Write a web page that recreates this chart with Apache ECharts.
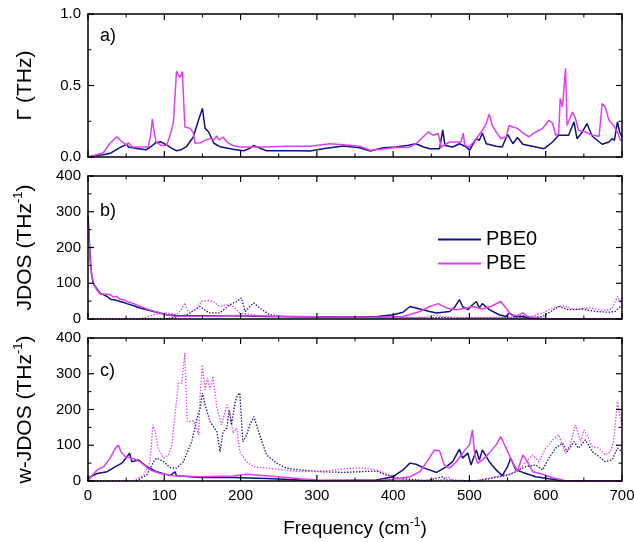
<!DOCTYPE html>
<html><head><meta charset="utf-8">
<script src="https://cdn.jsdelivr.net/npm/echarts/dist/echarts.min.js"></script>
<style>html,body{margin:0;padding:0;background:#fff}#wrap{position:relative;width:634px;height:542px}
#c,#tk,#lb{position:absolute;left:0;top:0;width:634px;height:542px}#tk,#lb{pointer-events:none}</style>
</head><body><div id="wrap"><div id="c"></div><div id="lb"></div><div id="tk"></div></div>
<script>
// x: frequency (cm^-1)
const xTicks = [0,100,200,300,400,500,600,700];
const gammaTicks = [0.0,0.5,1.0];
const jdosTicks = [0,100,200,300,400];
const xTickMarks = [0,50,100,150,200,250,300,350,400,450,500,550,600,650,700];
const gammaTickMarks = [0,0.25,0.5,0.75,1.0];
const jdosTickMarks = [0,50,100,150,200,250,300,350,400];
const seriesNames = ['PBE0','PBE'];
const panelLabels = ['a)','b)','c)'];

// panel a: Gamma (THz)
const gammaPBE = [[0,0],[10,0.014],[20,0.03],[29,0.096],[37.6,0.142],[44,0.11],[50.7,0.084],[53,0.1],[58,0.07],[70,0.07],[79,0.07],[82,0.15],[84.3,0.266],[86,0.2],[89,0.107],[96,0.08],[103,0.08],[107.5,0.15],[112,0.24],[116,0.60],[118,0.58],[120.5,0.557],[123.6,0.597],[127,0.21],[134,0.2],[138,0.17],[140.2,0.096],[147,0.1],[155,0.12],[160,0.13],[165,0.12],[168.6,0.147],[172,0.12],[177,0.14],[183,0.1],[190,0.08],[200,0.07],[230,0.07],[260,0.075],[291,0.075],[317,0.093],[335,0.085],[356,0.075],[370,0.047],[385,0.055],[400,0.065],[422,0.07],[430,0.093],[446,0.175],[452,0.152],[459,0.164],[463,0.07],[474,0.105],[489,0.105],[492,0.168],[494,0.08],[500,0.07],[509,0.128],[517,0.187],[522,0.234],[526,0.30],[530,0.22],[535,0.175],[541,0.128],[548,0.14],[552,0.22],[557,0.21],[563,0.2],[570,0.168],[578,0.14],[587,0.175],[596,0.2],[604,0.257],[609,0.234],[613,0.152],[617,0.164],[619,0.41],[622,0.35],[626,0.62],[628,0.22],[635,0.315],[639,0.27],[643,0.187],[652,0.175],[661,0.152],[670,0.145],[674,0.374],[678,0.35],[683,0.257],[689,0.22],[694,0.175],[698,0.117],[700,0.115]];
const gammaPBE0 = [[0,0],[10,0.01],[20,0.015],[29,0.026],[40,0.06],[50.7,0.09],[53,0.07],[64,0.06],[76,0.05],[82,0.07],[89,0.1],[95,0.107],[103,0.084],[110,0.06],[116,0.044],[122,0.05],[129,0.072],[138,0.14],[145,0.26],[150,0.34],[153.5,0.2],[158,0.177],[165,0.096],[173,0.072],[190,0.054],[204,0.044],[212,0.06],[217,0.08],[226,0.06],[234,0.044],[278,0.044],[291,0.042],[310,0.06],[335,0.077],[356,0.065],[370,0.042],[387,0.065],[404,0.07],[420,0.082],[430,0.093],[440,0.07],[448,0.058],[461,0.058],[465,0.19],[468,0.08],[478,0.07],[487,0.093],[496,0.07],[500,0.047],[509,0.128],[513,0.117],[517,0.168],[522,0.093],[535,0.075],[543,0.07],[550,0.159],[557,0.093],[563,0.136],[570,0.089],[587,0.07],[598,0.058],[609,0.105],[617,0.152],[630,0.152],[637,0.245],[641,0.128],[648,0.175],[654,0.234],[661,0.145],[674,0.089],[683,0.105],[687,0.128],[690,0.117],[694,0.245],[697,0.175],[700,0.14]];

// panel b: JDOS (THz^-1)
const jdosPBE0 = [[0,290],[1.5,230],[3,165],[5,119],[7,100],[9.6,91],[13,80],[16,72],[20,68],[25,63],[30,55],[33.6,54],[38,52],[42,49],[46,47],[51,43],[60,37],[68,31],[77,26],[86,21],[95,16],[103,12],[115,10],[130,9],[160,9],[190,9],[234,7],[300,6],[350,6],[380,7],[400,12],[413,19],[422,35],[435,28],[448,21],[457,17],[474,21],[480,31],[487,54],[491,35],[498,26],[504,40],[509,49],[513,31],[517,43],[526,26],[539,12],[548,7],[552,17],[559,7],[570,7],[578,3],[596,1],[620,0],[700,0]];
const jdosPBE = [[0,270],[1.5,220],[3,160],[5,120],[8,95],[12,80],[16,70],[22,70],[29,68],[33,62],[38,63],[42,55],[46.7,54],[52,48],[60,43],[68,36],[77,28],[86,22],[95,17],[103,12],[112,8],[150,8],[200,10],[250,8],[300,6],[380,5],[413,7],[435,21],[448,35],[459,43],[470,31],[483,26],[496,31],[504,35],[517,28],[528,35],[541,49],[548,31],[554,12],[563,9],[570,17],[576,7],[591,3],[604,0],[700,0]];
const jdosPBE0dot = [[0,0],[100,0],[110,3],[130,12],[147,35],[155,22],[160,17],[173,17],[186,40],[195,49],[201,59],[206,21],[217,45],[225,31],[238,12],[256,7],[304,5],[350,4],[400,3],[450,3],[470,5],[480,2],[500,3],[550,3],[580,4],[596,7],[604,17],[617,35],[630,26],[648,28],[665,21],[683,19],[691,21],[698,35],[700,33]];
const jdosPBEdot = [[0,0],[60,0],[73,3],[86,12],[103,17],[116,12],[122,25],[127,45],[130,25],[134,17],[143,31],[149,49],[156,52],[164,49],[173,35],[182,40],[190,35],[199,17],[217,12],[234,7],[278,6],[330,5],[400,4],[440,5],[455,10],[465,6],[500,4],[560,5],[570,10],[580,6],[596,17],[609,31],[622,37],[639,26],[657,31],[674,24],[687,28],[694,63],[698,49],[700,45]];

// panel c: w-JDOS (THz^-1)
const wjdosPBE0 = [[0,0],[3,12],[12,21],[25,26],[36,40],[44.5,50],[51,68],[54.5,78],[57.5,54],[66,59],[77,40],[90,26],[108,15],[114,26],[116,15],[147,10],[190,10],[234,7],[278,3],[300,1],[378,3],[400,12],[413,31],[422,50],[430,47],[441,36],[457,24],[470,40],[478,54],[487,89],[491,64],[498,78],[502,45],[509,87],[513,59],[517,87],[526,54],[535,31],[543,15],[550,40],[554,64],[561,31],[570,24],[587,12],[604,6],[622,1],[630,0],[700,0]];
const wjdosPBE = [[0,0],[5,15],[12,31],[20.5,40],[29,64],[36,92],[40,101],[43,82],[49,68],[60,62],[68,54],[81.5,31],[95,21],[112,15],[147,12],[190,14],[208,19],[234,15],[278,6],[300,3],[378,1],[400,5],[422,12],[435,26],[446,59],[454,87],[461,84],[467,45],[474,36],[483,54],[491,78],[500,101],[504,143],[507,73],[511,50],[517,59],[526,78],[535,101],[541,124],[548,92],[557,50],[563,28],[570,73],[576,54],[583,26],[596,19],[609,9],[622,3],[626,0],[700,0]];
const wjdosPBE0dot = [[0,0],[64,1],[77,17],[86,54],[90,64],[99,54],[108,37],[116,36],[125,54],[136,110],[143,176],[147,204],[150,246],[153.5,213],[160,166],[169,138],[173,82],[177,138],[182,148],[185,199],[188,157],[193,222],[196,241],[199,246],[203,110],[208,129],[212,157],[217.5,180],[225,129],[234,73],[247,50],[260,36],[278,31],[304,26],[335,24],[378,28],[391,17],[409,7],[443,1],[465,12],[470,3],[509,0],[552,17],[574,40],[587,45],[596,31],[604,64],[613,92],[622,106],[628,82],[637,110],[643,92],[652,115],[661,82],[670,68],[678,54],[687,59],[694,92],[700,82]];
const wjdosPBEdot = [[0,0],[60,1],[73,17],[81.5,54],[85,157],[88,138],[92,92],[99,64],[105.5,73],[110,101],[114,185],[118.6,274],[123,274],[127,358],[130,166],[138,168],[143,143],[145,129],[147,241],[150,325],[153.5,255],[156.5,288],[160,255],[164,293],[169,204],[175,157],[182,213],[186,194],[190,134],[195,148],[199,82],[208,54],[217,40],[234,36],[278,26],[304,28],[313,28],[335,34],[356,37],[378,31],[391,21],[404,7],[422,1],[465,3],[472,12],[478,1],[509,1],[535,12],[552,19],[565,31],[574,54],[583,73],[591,54],[600,92],[609,115],[617,129],[626,78],[632,101],[639,157],[646,110],[650,143],[654,129],[661,96],[670,92],[678,73],[685,82],[689,110],[694,222],[697,185],[700,157]];

const C0 = '#101080', C1 = '#dd40f2';
const FONT = 'Liberation Sans, Arial, sans-serif';

const tops = [14, 176, 338], H = 143;
const yCfg = [
  {min:gammaTicks[0], max:gammaTicks[gammaTicks.length-1], interval:gammaTicks[1]-gammaTicks[0], dec:1, major:gammaTicks, marks:gammaTickMarks, name:'{n|Γ (THz)}'},
  {min:jdosTicks[0], max:jdosTicks[jdosTicks.length-1], interval:jdosTicks[1]-jdosTicks[0], dec:0, major:jdosTicks, marks:jdosTickMarks, name:'{n|JDOS (THz}{s|-1}{n|)}'},
  {min:jdosTicks[0], max:jdosTicks[jdosTicks.length-1], interval:jdosTicks[1]-jdosTicks[0], dec:0, major:jdosTicks, marks:jdosTickMarks, name:'{n|w-JDOS (THz}{s|-1}{n|)}'}
];
const xmin = xTicks[0], xmax = xTicks[xTicks.length-1], xint = xTicks[1]-xTicks[0];
const safeFmt = dec => (v => { const n = Number(v); return isFinite(n) ? n.toFixed(dec) : String(v); });

// ---------- 1. data chart (series, legend, panel labels) ----------
function runData(){
  const chart = echarts.init(document.getElementById('c'));
  const dx = [], dy = [];
  for (let i=0;i<3;i++){
    dx.push({type:'value', gridIndex:i, min:xmin, max:xmax, interval:xint, axisLine:{show:false}, axisTick:{show:false}, axisLabel:{show:false}, splitLine:{show:false}});
    const c = yCfg[i];
    dy.push({type:'value', gridIndex:i, min:c.min, max:c.max, interval:c.interval, axisLine:{show:false}, axisTick:{show:false}, axisLabel:{show:false}, splitLine:{show:false}});
  }
  function ser(name, data, g, color, dotted){
    return {type:'line', name, data, xAxisIndex:g, yAxisIndex:g, showSymbol:false, symbol:'none',
      lineStyle:{color, width: dotted?1.3:1.5, type: dotted?[1.4,1.6]:'solid'}, itemStyle:{color}};
  }
  const series = [
    ser(seriesNames[0]+' ', jdosPBE0dot, 1, C0, true),
    ser(seriesNames[1]+' ', jdosPBEdot, 1, C1, true),
    ser(seriesNames[0]+' ', wjdosPBE0dot, 2, C0, true),
    ser(seriesNames[1]+' ', wjdosPBEdot, 2, C1, true),
    ser(seriesNames[0], gammaPBE0, 0, C0, false),
    ser(seriesNames[1], gammaPBE, 0, C1, false),
    ser(seriesNames[0], jdosPBE0, 1, C0, false),
    ser(seriesNames[1], jdosPBE, 1, C1, false),
    ser(seriesNames[0], wjdosPBE0, 2, C0, false),
    ser(seriesNames[1], wjdosPBE, 2, C1, false)
  ];
  const labelYs = [37, 212, 372];
  chart.setOption({
    animation:false,
    grid:tops.map(t => ({left:88, right:12, top:t, height:H, outerBoundsMode:'none'})), xAxis:dx, yAxis:dy, series,
    legend:{data:seriesNames.map(n=>({name:n, icon:'rect'})), orient:'vertical', left:433, top:223, itemWidth:43, itemHeight:2, itemGap:1,
      selectedMode:false, textStyle:{fontSize:20, fontFamily:FONT, color:'#000', lineHeight:23}},
    graphic: panelLabels.map((t,i)=>({type:'text', left:100, top:labelYs[i]-10, style:{text:t, fontSize:18, fontFamily:FONT, fill:'#000'}}))
  });
}

// ---------- 2. label chart (tick labels and titles only) ----------
function runLabels(){
  const ch = echarts.init(document.getElementById('lb'));
  const richY = {n:{fontSize:21, fontFamily:FONT, color:'#000', lineHeight:26}, s:{fontSize:13, fontFamily:FONT, color:'#000', verticalAlign:'top', lineHeight:16}};
  const richX = {n:{fontSize:19, fontFamily:FONT, color:'#000', lineHeight:24}, s:{fontSize:12, fontFamily:FONT, color:'#000', verticalAlign:'top', lineHeight:14}};
  const xa = [], ya = [];
  for (let i=0;i<3;i++){
    const bx = {type:'value', gridIndex:i, min:xmin, max:xmax, interval:xint, axisLine:{show:false}, axisTick:{show:false}, splitLine:{show:false},
      axisLabel:{show:i===2, color:'#000', fontSize:15, fontFamily:FONT, margin:7}};
    if (i===2) Object.assign(bx, {name:'{n|Frequency (cm}{s|-1}{n|)}', nameLocation:'middle', nameGap:36, nameTextStyle:{rich:richX}});
    xa.push(bx);
    const c = yCfg[i];
    ya.push({type:'value', gridIndex:i, min:c.min, max:c.max, interval:c.interval, axisLine:{show:false}, axisTick:{show:false}, splitLine:{show:false},
      axisLabel:{color:'#000', fontSize:15, fontFamily:FONT, margin:7, formatter:safeFmt(c.dec)},
      name:c.name, nameLocation:'middle', nameGap:50, nameRotate:90, nameTextStyle:{rich:richY}});
  }
  ch.setOption({animation:false, grid:tops.map(t => ({left:88, right:12, top:t, height:H, outerBoundsMode:'none'})), xAxis:xa, yAxis:ya, series:[]});
}

// ---------- 3. frame chart (axis lines + inward tick marks drawn via the axes' scales) ----------
function runTicks(){
  const ch = echarts.init(document.getElementById('tk'));
  const axisLine = () => ({show:true, onZero:false, lineStyle:{color:'#000', width:1.5}});
  const xa = [], ya = [], series = [];
  const MAJ = 6, MIN = 3.5;
  for (let i=0;i<3;i++){
    const c = yCfg[i];
    ['bottom','top'].forEach(p => xa.push({type:'value', gridIndex:i, position:p, min:xmin, max:xmax, interval:xint,
      axisLine:axisLine(), axisTick:{show:false}, splitLine:{show:false}, axisLabel:{show:false}}));
    ['left','right'].forEach(p => ya.push({type:'value', gridIndex:i, position:p, min:c.min, max:c.max, interval:c.interval,
      axisLine:axisLine(), axisTick:{show:false}, splitLine:{show:false}, axisLabel:{show:false}}));
    // tick marks: data = tick values; kind 0 = x-axis tick, 1 = y-axis tick
    const data = xTickMarks.map(v => [v, c.min, 0, xTicks.includes(v) ? 1 : 0])
      .concat(c.marks.map(v => [xmin, v, 1, c.major.includes(v) ? 1 : 0]));
    series.push({type:'custom', xAxisIndex:2*i, yAxisIndex:2*i, silent:true, clip:false, z:10, data,
      renderItem:(params, api) => {
        const kind = api.value(2), big = api.value(3) === 1, L = big ? MAJ : MIN;
        const st = {stroke:'#000', lineWidth: big ? 1.2 : 1};
        if (kind === 0){
          const v = api.value(0);
          const a = api.coord([v, c.min]), b = api.coord([v, c.max]);
          return {type:'group', children:[
            {type:'line', shape:{x1:a[0], y1:a[1], x2:a[0], y2:a[1]-L}, style:st},
            {type:'line', shape:{x1:b[0], y1:b[1], x2:b[0], y2:b[1]+L}, style:st}]};
        } else {
          const v = api.value(1);
          const a = api.coord([xmin, v]), b = api.coord([xmax, v]);
          return {type:'group', children:[
            {type:'line', shape:{x1:a[0], y1:a[1], x2:a[0]+L, y2:a[1]}, style:st},
            {type:'line', shape:{x1:b[0], y1:b[1], x2:b[0]-L, y2:b[1]}, style:st}]};
        }
      }});
  }
  ch.setOption({animation:false, grid:tops.map(t => ({left:88, right:12, top:t, height:H, outerBoundsMode:'none'})), xAxis:xa, yAxis:ya, series});
}

[runData, runLabels, runTicks].forEach(f => { try { f(); } catch (e) { console.error(e); } });
</script></body></html>
